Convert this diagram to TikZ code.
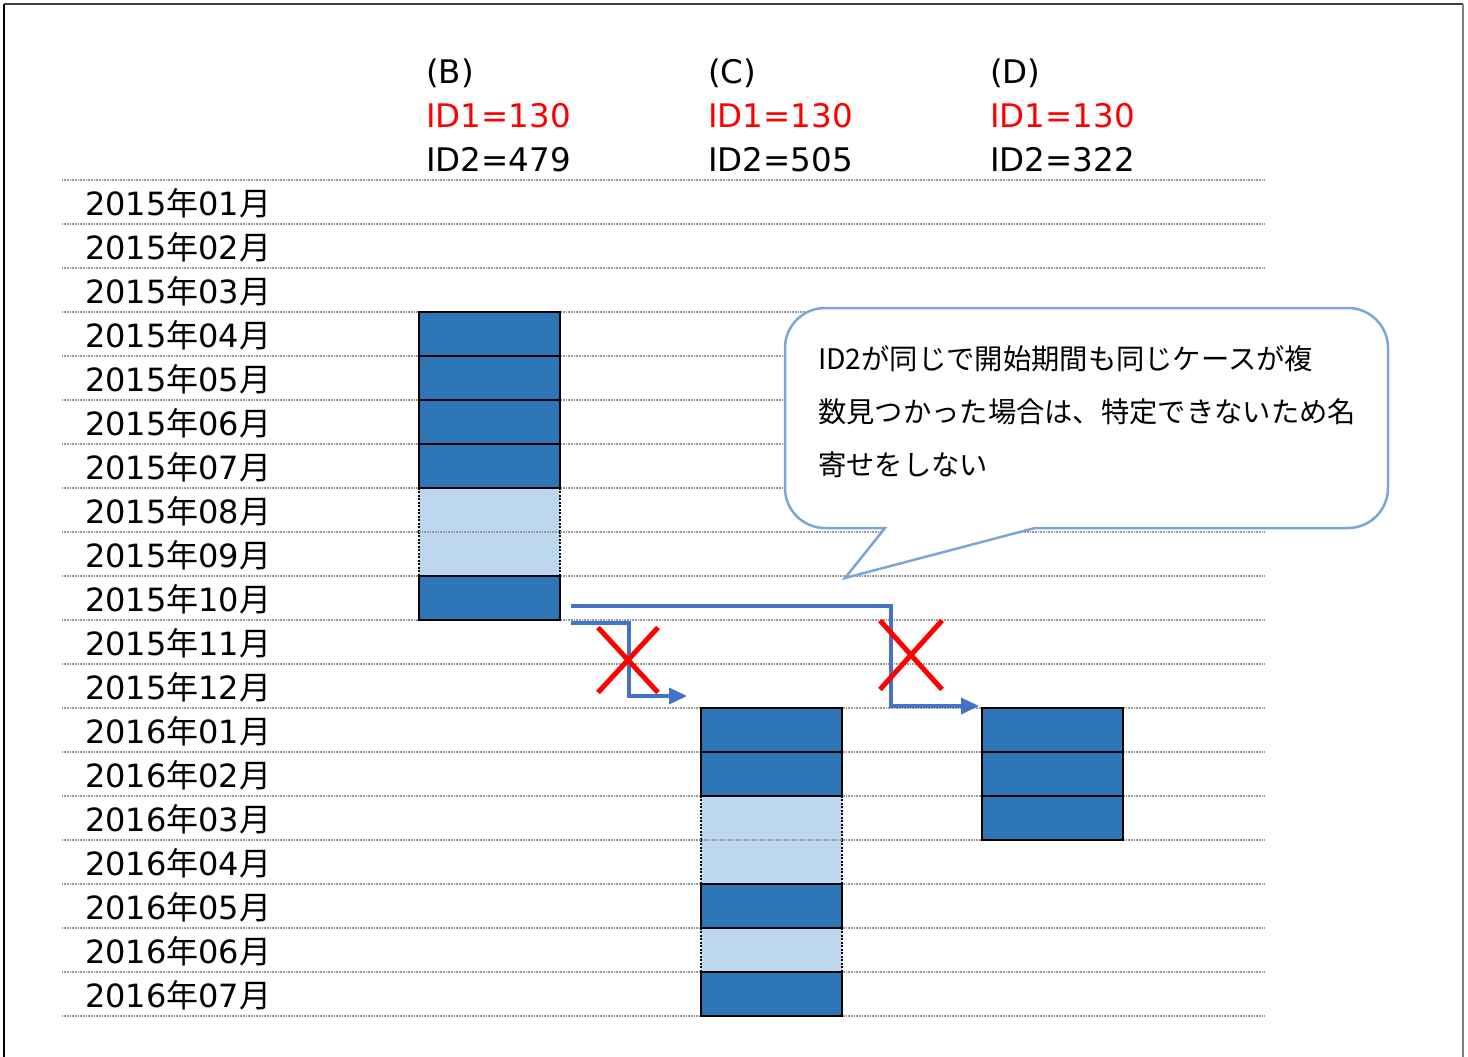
\documentclass[tikz,border=0pt]{standalone}
\usepackage{fontspec}
\setmainfont{DejaVu Sans}
\newfontfamily\jp{Noto Sans CJK JP}
\usetikzlibrary{arrows.meta,calc,shapes.misc}
\definecolor{cdark}{RGB}{46,117,182}
\definecolor{clight}{RGB}{189,215,238}
\definecolor{carrow}{RGB}{68,114,196}
\definecolor{ccall}{RGB}{125,166,214}
\definecolor{cred}{RGB}{255,0,0}
\newcommand{\ymlab}[2]{#1{\jp 年}#2{\jp 月}}
\begin{document}
\begin{tikzpicture}[x=1pt,y=-1pt,
  rowline/.style={gray!80,line width=1.2pt,dash pattern=on 1pt off 0.6pt},
  lab/.style={anchor=west,inner sep=0pt,font=\fontsize{32}{32}\selectfont},
  hdr/.style={anchor=west,inner sep=0pt,font=\fontsize{32.5}{32}\selectfont},
  darkcell/.style={fill=cdark,draw=black,line width=2pt,minimum width=141pt,minimum height=44pt,inner sep=0pt},
  lightcell/.style={fill=clight,minimum width=141pt,minimum height=44pt,inner sep=0pt},
  lightside/.style={black,line width=1.5pt,dash pattern=on 2pt off 1.5pt},
  arr/.style={carrow,line width=3.5pt,-{Triangle[length=18pt,width=16pt]}},
  xmark/.style={draw=cred,cross out,line width=5pt,inner sep=0pt},
  callout/.style={draw=ccall,fill=white,line width=2.5pt},
  notetext/.style={anchor=north west,inner sep=0pt,align=left,font=\jp\fontsize{28.3}{53}\selectfont}
]
\useasboundingbox (0,0) rectangle (1468,1057);
% frame
\draw[black,line width=2.5pt] (4,1060) -- (4,4);
\draw[black!75,line width=2pt] (4,4) -- (1463,4);
\draw[gray,line width=1.5pt] (1463,4) -- (1463,1060);
% headers
\node[hdr] (hB) at (426,73) {(B)};
\node[hdr,text=cred] (hB1) at (426,116) {ID1=130};
\node[hdr] (hB2) at (426,160) {ID2=479};
\node[hdr] (hC) at (708,73) {(C)};
\node[hdr,text=cred] (hC1) at (708,116) {ID1=130};
\node[hdr] (hC2) at (708,160) {ID2=505};
\node[hdr] (hD) at (990,73) {(D)};
\node[hdr,text=cred] (hD1) at (990,116) {ID1=130};
\node[hdr] (hD2) at (990,160) {ID2=322};
% light cells
\foreach \n/\x/\r in {b7/489.5/7,b8/489.5/8,c14/771.5/14,c15/771.5/15,c17/771.5/17}{
  \node[lightcell] (\n) at (\x,{202+44*\r}) {};
  \draw[lightside] (\n.north west) -- (\n.south west);
  \draw[lightside] (\n.north east) -- (\n.south east);
}
% row lines
\foreach \k in {0,...,19}{
  \draw[rowline] (62,{180+44*\k}) -- (1265,{180+44*\k});
}
% row labels
\foreach \i/\y/\m in {0/2015/01,1/2015/02,2/2015/03,3/2015/04,4/2015/05,5/2015/06,6/2015/07,7/2015/08,8/2015/09,9/2015/10,10/2015/11,11/2015/12,12/2016/01,13/2016/02,14/2016/03,15/2016/04,16/2016/05,17/2016/06,18/2016/07}{
  \node[lab] (r\i) at (85,{203+44*\i}) {\ymlab{\y}{\m}};
}
% dark cells
\foreach \n/\x/\r in {b3/489.5/3,b4/489.5/4,b5/489.5/5,b6/489.5/6,b9/489.5/9,c12/771.5/12,c13/771.5/13,c16/771.5/16,c18/771.5/18,d12/1052.5/12,d13/1052.5/13,d14/1052.5/14}{
  \node[darkcell] (\n) at (\x,{202+44*\r}) {};
}
% arrows
\coordinate (a1s) at ($(b9.south east)+(10,2)$);
\coordinate (a1m) at ($(a1s)+(58,0)$);
\coordinate (a1e) at ($(c12.north west)+(-13,-11)$);
\draw[arr] (a1s) -- (a1m) |- (a1e);
\coordinate (a2s) at ($(b9.east)+(10,8)$);
\coordinate (a2m) at (891,606);
\coordinate (a2e) at ($(d12.north west)+(-2,-1)$);
\draw[arr] (a2s) -- (a2m) |- (a2e);
% crosses
\node[xmark,minimum width=55pt,minimum height=60pt] (x1) at (628,660) {};
\node[xmark,minimum width=57pt,minimum height=64pt] (x2) at (911,655) {};
% callout
\draw[callout] (885,528) -- (845,578) -- (1035,528) -- (1348,528)
  arc[start angle=90,end angle=0,radius=40] -- (1388,348)
  arc[start angle=0,end angle=-90,radius=40] -- (825,308)
  arc[start angle=-90,end angle=-180,radius=40] -- (785,488)
  arc[start angle=180,end angle=90,radius=40] -- cycle;
\node[notetext] (note) at (818,345) {ID2が同じで開始期間も同じケースが複\\数見つかった場合は、特定できないため名\\寄せをしない};
\end{tikzpicture}
\end{document}
